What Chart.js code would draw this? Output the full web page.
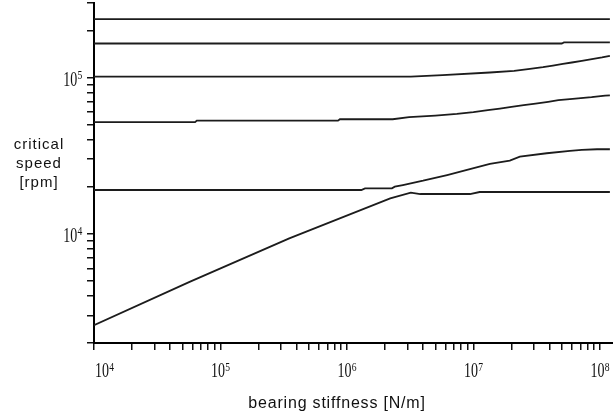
<!DOCTYPE html>
<html>
<head>
<meta charset="utf-8">
<script src="https://cdn.jsdelivr.net/npm/chart.js@4/dist/chart.umd.min.js"></script>
<style>
  html, body { margin: 0; padding: 0; background: #fff; }
  #c { display: block; }
</style>
</head>
<body>
<canvas id="c" width="613" height="417"></canvas>
<script>
// bearing stiffness [N/m] / critical speed [rpm], one pair per mode
const stiff1 = [1e4, 1.2e8];
const speed1 = [236800, 236800];

const stiff2 = [1e4, 5.0e7, 5.2e7, 1.2e8];
const speed2 = [165200, 165200, 167700, 167700];

const stiff3 = [1e4, 3.2e6, 5.7e6, 1.35e7, 2.1e7, 2.8e7, 3.55e7, 4.25e7, 5.1e7, 6.0e7, 7.2e7, 8.65e7, 1.04e8, 1.2e8];
const speed3 = [101500, 101500, 103600, 107700, 110400, 113700, 116600, 119400, 122400, 124800, 127900, 131200, 134400, 137700];

const stiff4 = [1e4, 6.3e4, 6.5e4, 8.5e5, 8.8e5, 2.3e6, 3.1e6, 5.0e6, 7.4e6, 1.0e7, 1.3e7, 1.62e7, 2.0e7, 2.5e7, 3.1e7, 3.9e7, 4.7e7, 6.1e7, 8.6e7, 1.1e8, 1.2e8];
const speed4 = [51800, 51800, 53000, 53000, 54100, 54100, 55800, 57100, 58500, 60000, 61800, 63300, 64900, 66600, 68100, 69900, 71600, 73000, 74900, 76700, 77000];

const stiff5 = [1e4, 1.3e6, 1.39e6, 2.27e6, 2.39e6, 2.77e6, 4.0e6, 6.2e6, 8.9e6, 1.35e7, 1.94e7, 2.33e7, 3.8e7, 5.8e7, 7.2e7, 9.5e7, 1.2e8];
const speed5 = [19060, 19060, 19540, 19540, 20010, 20520, 21860, 23780, 25610, 27980, 29370, 31160, 32770, 33900, 34400, 34750, 34750];

const stiff6 = [1e4, 5.7e4, 3.5e5, 2.2e6, 3.2e6, 3.8e6, 9.4e6, 1.12e7, 1.2e8];
const speed6 = [2600, 4920, 9340, 16860, 18320, 17970, 17970, 18510, 18510];

const xMajorExps = [4, 5, 6, 7, 8];
const yMajorExps = [4, 5];
const xTickValues = [1e4, 2e4, 3e4, 4e4, 5e4, 6e4, 7e4, 8e4, 9e4,
  1e5, 2e5, 3e5, 4e5, 5e5, 6e5, 7e5, 8e5, 9e5,
  1e6, 2e6, 3e6, 4e6, 5e6, 6e6, 7e6, 8e6, 9e6,
  1e7, 2e7, 3e7, 4e7, 5e7, 6e7, 7e7, 8e7, 9e7, 1e8];
const yTickValues = [2e3, 3e3, 4e3, 5e3, 6e3, 7e3, 8e3, 9e3,
  1e4, 2e4, 3e4, 4e4, 5e4, 6e4, 7e4, 8e4, 9e4,
  1e5, 2e5, 3e5];

const xTitle = 'bearing stiffness [N/m]';
const yTitle = ['critical', 'speed', '[rpm]'];

const modes = [
  [stiff1, speed1], [stiff2, speed2], [stiff3, speed3],
  [stiff4, speed4], [stiff5, speed5], [stiff6, speed6],
];

const SERIF = '"Liberation Serif", "Times New Roman", serif';
const SANS = '"Liberation Sans", Arial, sans-serif';

function drawPower(ctx, x, baseline, exp, align) {
  ctx.letterSpacing = '0px';
  ctx.font = '20px ' + SERIF;
  const w1 = ctx.measureText('10').width * 0.7;
  ctx.font = '12px ' + SERIF;
  const w2 = ctx.measureText(String(exp)).width * 0.8;
  let left = x - (w1 + w2) / 2;
  if (align === 'left') left = x + 1;
  if (align === 'right') left = x - w1 - w2;
  ctx.textAlign = 'left';
  ctx.textBaseline = 'alphabetic';
  ctx.save();
  ctx.translate(left, baseline);
  ctx.scale(0.7, 1);
  ctx.font = '20px ' + SERIF;
  ctx.fillText('10', 0, 0);
  ctx.restore();
  ctx.save();
  ctx.translate(left + w1 + 0.3, baseline - 6.5);
  ctx.scale(0.8, 1);
  ctx.font = '12px ' + SERIF;
  ctx.fillText(String(exp), 0, 0);
  ctx.restore();
}

const axisText = {
  id: 'axisText',
  afterDraw(chart) {
    const { ctx, chartArea, scales: { x, y } } = chart;
    ctx.save();
    ctx.fillStyle = '#111';
    xMajorExps.forEach((e, i) => {
      drawPower(ctx, x.getPixelForValue(10 ** e), chartArea.bottom + 34, e, i === 0 ? 'left' : 'center');
    });
    yMajorExps.forEach(e => {
      drawPower(ctx, chartArea.left - 12, y.getPixelForValue(10 ** e) + 8, e, 'right');
    });
    ctx.textAlign = 'center';
    ctx.textBaseline = 'alphabetic';
    ctx.font = '15px ' + SANS;
    ctx.letterSpacing = '1px';
    yTitle.forEach((t, i) => ctx.fillText(t, 39, 149 + i * 19));
    ctx.font = '16px ' + SANS;
    ctx.letterSpacing = '0.8px';
    ctx.fillText(xTitle, 337, 408);
    ctx.restore();
  },
};

const axisGrid = {
  drawOnChartArea: false,
  drawTicks: true,
  tickLength: 7,
  color: '#111',
  lineWidth: 1.5,
};

new Chart(document.getElementById('c'), {
  type: 'scatter',
  data: {
    datasets: modes.map(([ks, ns]) => ({
      data: ks.map((k, i) => ({ x: k, y: ns[i] })),
      showLine: true,
      borderColor: '#1c1c1c',
      borderWidth: 1.8,
      pointRadius: 0,
      tension: 0,
      fill: false,
    })),
  },
  options: {
    responsive: false,
    animation: false,
    layout: { padding: { top: 3, left: 0, right: 0, bottom: 0 } },
    plugins: { legend: { display: false }, tooltip: { enabled: false } },
    scales: {
      x: {
        type: 'logarithmic',
        min: 1e4,
        max: 1.27e8,
        grid: axisGrid,
        border: { display: true, color: '#000', width: 2 },
        ticks: { display: false },
        afterBuildTicks: s => { s.ticks = xTickValues.map(v => ({ value: v })); },
        afterFit: s => { s.height = 74; },
      },
      y: {
        type: 'logarithmic',
        min: 2000,
        max: 3e5,
        grid: axisGrid,
        border: { display: true, color: '#000', width: 2 },
        ticks: { display: false },
        afterBuildTicks: s => { s.ticks = yTickValues.map(v => ({ value: v })); },
        afterFit: s => { s.width = 94; },
      },
    },
  },
  plugins: [axisText],
});
</script>
</body>
</html>
